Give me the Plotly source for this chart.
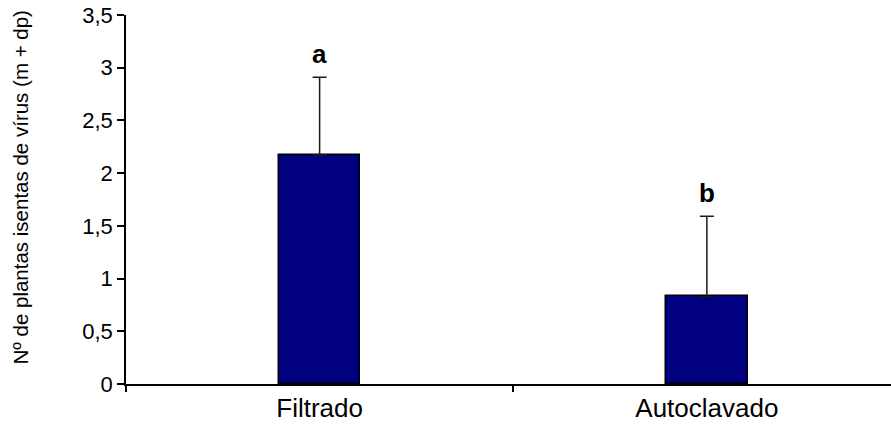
import plotly.graph_objects as go

# Mean number of virus-free plants per treatment, with standard deviation
categories = ["Filtrado", "Autoclavado"]
means = [2.17, 0.83]
sds = [0.74, 0.76]
letters = ["a", "b"]
y_ticks = [0, 0.5, 1, 1.5, 2, 2.5, 3, 3.5]
y_tick_text = ["0", "0,5", "1", "1,5", "2", "2,5", "3", "3,5"]

FONT = "Liberation Sans, Arial, sans-serif"

fig = go.Figure()
fig.add_trace(go.Bar(
    x=categories,
    y=means,
    width=0.21,
    marker=dict(color="#000080", line=dict(color="#000000", width=1.5)),
    error_y=dict(type="data", array=sds, arrayminus=[0] * len(sds),
                 symmetric=False, color="#1a1a1a", thickness=1.5, width=7),
    showlegend=False,
    hoverinfo="skip",
))

# Significance letters above each error bar
for cat, m, s, lt in zip(categories, means, sds, letters):
    fig.add_annotation(x=cat, y=m + s, text=f"<b>{lt}</b>", showarrow=False,
                       xanchor="center", yanchor="bottom", yshift=6,
                       font=dict(family=FONT, size=26, color="#000000"))

# Vertical axis title
fig.add_annotation(xref="paper", yref="paper", x=0, y=0.5, xshift=-106,
                   yshift=12, textangle=-90, showarrow=False,
                   xanchor="center", yanchor="middle",
                   text="Nº de plantas isentas de vírus (m + dp)",
                   font=dict(family=FONT, size=20.5, color="#000000"))

fig.update_layout(
    width=891, height=428,
    margin=dict(l=126, r=0, t=15, b=44),
    paper_bgcolor="white", plot_bgcolor="white",
    bargap=0,
    font=dict(family=FONT, color="#000000"),
)
fig.update_xaxes(
    type="category", range=[-0.5, 1.4755],
    showline=True, linecolor="#000000", linewidth=1.5,
    ticks="outside", tickson="boundaries", ticklen=6, tickwidth=1.5,
    tickcolor="#000000", showgrid=False, zeroline=False,
    tickfont=dict(family=FONT, size=26, color="#000000"),
)
fig.update_yaxes(
    range=[0, 3.5], tickvals=y_ticks, ticktext=y_tick_text,
    showline=True, linecolor="#000000", linewidth=1.5,
    ticks="outside", ticklen=7, tickwidth=1.5, tickcolor="#000000",
    showgrid=False, zeroline=False,
    tickfont=dict(family=FONT, size=22, color="#000000"),
)

fig.write_html("out.html")
